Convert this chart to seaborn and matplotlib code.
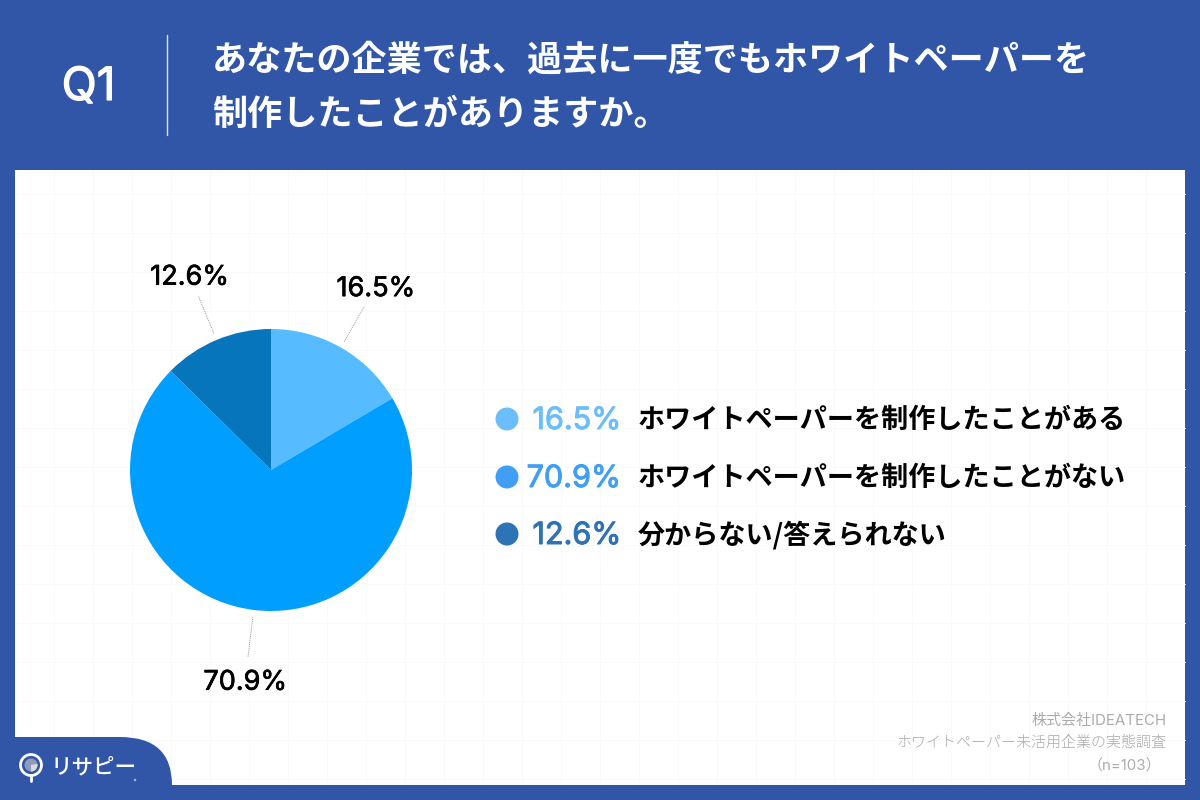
import matplotlib
matplotlib.use("Agg")
import numpy as np
import matplotlib.pyplot as plt
import matplotlib.patheffects as pe
import seaborn as sns
from matplotlib.patches import Rectangle, Circle, PathPatch, Wedge
from matplotlib.path import Path

sns.set_theme(style="white")
JP = ["Noto Sans CJK JP", "DejaVu Sans"]
LATIN = ["Inter", "Noto Sans CJK JP", "DejaVu Sans"]
plt.rcParams["font.family"] = JP

question = "Q1"
title_lines = ["あなたの企業では、過去に一度でもホワイトペーパーを", "制作したことがありますか。"]
values = [16.5, 70.9, 12.6]
pct_labels = ["16.5%", "70.9%", "12.6%"]
categories = ["ホワイトペーパーを制作したことがある", "ホワイトペーパーを制作したことがない", "分からない/答えられない"]
pie_colors = sns.color_palette(["#56BBFF", "#009FFF", "#0775BC"])
legend_colors = sns.color_palette(["#6CBDFB", "#409FF5", "#2D73B5"])
source_lines = ["株式会社IDEATECH", "ホワイトペーパー未活用企業の実態調査", "（n=103）"]
brand = "リサピー"

BLUE = "#3156A8"
fig = plt.figure(figsize=(12, 8), dpi=100, facecolor=BLUE)


def thicken(color, w=0.5):
    return [pe.withStroke(linewidth=w, foreground=color)]


bg = fig.add_axes([0, 0, 1, 1])
bg.set_xlim(0, 1200)
bg.set_ylim(800, 0)
bg.axis("off")

bg.add_patch(Rectangle((15, 170), 1170, 615, fc="white", ec="none", zorder=1))
for gx in range(15, 1185, 39):
    bg.plot([gx, gx], [170, 785], color="#FAFAFA", lw=0.7, zorder=1.1)
for gy in range(194, 785, 39):
    bg.plot([15, 1185], [gy, gy], color="#FAFAFA", lw=0.7, zorder=1.1)
# border strip over the ends of the grid
bg.add_patch(Rectangle((0, 785), 1200, 15, fc=BLUE, ec="none", zorder=1.2))

# logo tab with rounded top-right corner
tab = Path(
    [(0, 737), (120, 737), (172, 737), (172, 785), (172, 800), (0, 800), (0, 737)],
    [Path.MOVETO, Path.LINETO, Path.CURVE3, Path.CURVE3, Path.LINETO, Path.LINETO, Path.CLOSEPOLY],
)
bg.add_patch(PathPatch(tab, fc=BLUE, ec="none", zorder=2))
bg.add_patch(Circle((31, 765), 10.5, fc=BLUE, ec="white", lw=2, zorder=3))
bg.add_patch(Circle((31, 765), 6.5, fc="#8F9BB8", ec="none", zorder=3.1))
bg.add_patch(Wedge((31, 765), 6.5, -10, 90, fc="#D8DBE3", ec="none", zorder=3.2))
bg.plot([31, 31], [776, 781], color="white", lw=2, zorder=3, solid_capstyle="round")
bg.text(51, 767, brand, color="white", fontsize=15.5, ha="left", va="center", zorder=3, fontweight="medium")
bg.add_patch(Circle((135, 780), 1.3, fc="#9FB0D4", ec="none", zorder=3))

# header
bg.text(88.5, 88, question, color="white", fontsize=33, family=LATIN, ha="center", va="center",
        zorder=3, path_effects=thicken("white", 0.9))
bg.plot([167, 167], [35, 135], color="white", lw=1, alpha=0.85, zorder=3)
bg.text(212, 60, title_lines[0], color="white", fontsize=25.25, fontweight="bold", ha="left", va="center", zorder=3)
bg.text(212, 114, title_lines[1], color="white", fontsize=25.25, fontweight="bold", ha="left", va="center", zorder=3)

# legend rows
for y, pct, cat, col in zip([419, 477, 534], pct_labels, categories, legend_colors):
    bg.add_patch(Circle((507, y), 11.5, fc=col, ec="none", zorder=3))
    bg.text(621, y + 2, pct, color=col, fontsize=22, family=LATIN, ha="right", va="center", zorder=3,
            path_effects=thicken(col, 0.7))
    bg.text(638, y + 1, cat, color="black", fontsize=19.5, fontweight="bold", ha="left", va="center", zorder=3)

# source
bg.text(1167, 721, source_lines[0], color="#ABABAB", fontsize=10.8, family=LATIN, ha="right", va="center", zorder=3)
bg.text(1167, 743, source_lines[1], color="#ABABAB", fontsize=10.8, fontweight="light", ha="right", va="center", zorder=3)
bg.text(1161, 766, source_lines[2], color="#ABABAB", fontsize=10.8, family=LATIN, ha="right", va="center", zorder=3)

# pie
ax = fig.add_axes([130 / 1200, 1 - 611 / 800, 282 / 1200, 282 / 800])
ax.patch.set_alpha(0)
wedges, texts = ax.pie(values, labels=pct_labels, colors=pie_colors, startangle=90, counterclock=False,
                       labeldistance=1.5, wedgeprops=dict(linewidth=0))
ax.set_xlim(-1, 1)
ax.set_ylim(-1, 1)
for t, w in zip(texts, wedges):
    t.set_ha("center")
    t.set_va("center")
    t.set_fontsize(19.5)
    t.set_color("black")
    t.set_family(LATIN)
    t.set_path_effects(thicken("black", 0.5))
    tx, ty = t.get_position()
    t.set_position((tx, ty - 0.02))
    theta = np.deg2rad((w.theta1 + w.theta2) / 2)
    c, s = np.cos(theta), np.sin(theta)
    ax.plot([1.05 * c, 1.34 * c], [1.05 * s, 1.34 * s], color="#999999", lw=0.7,
            ls=(0, (1, 1)), clip_on=False)

fig.savefig("out.png", dpi=100, facecolor=BLUE)
